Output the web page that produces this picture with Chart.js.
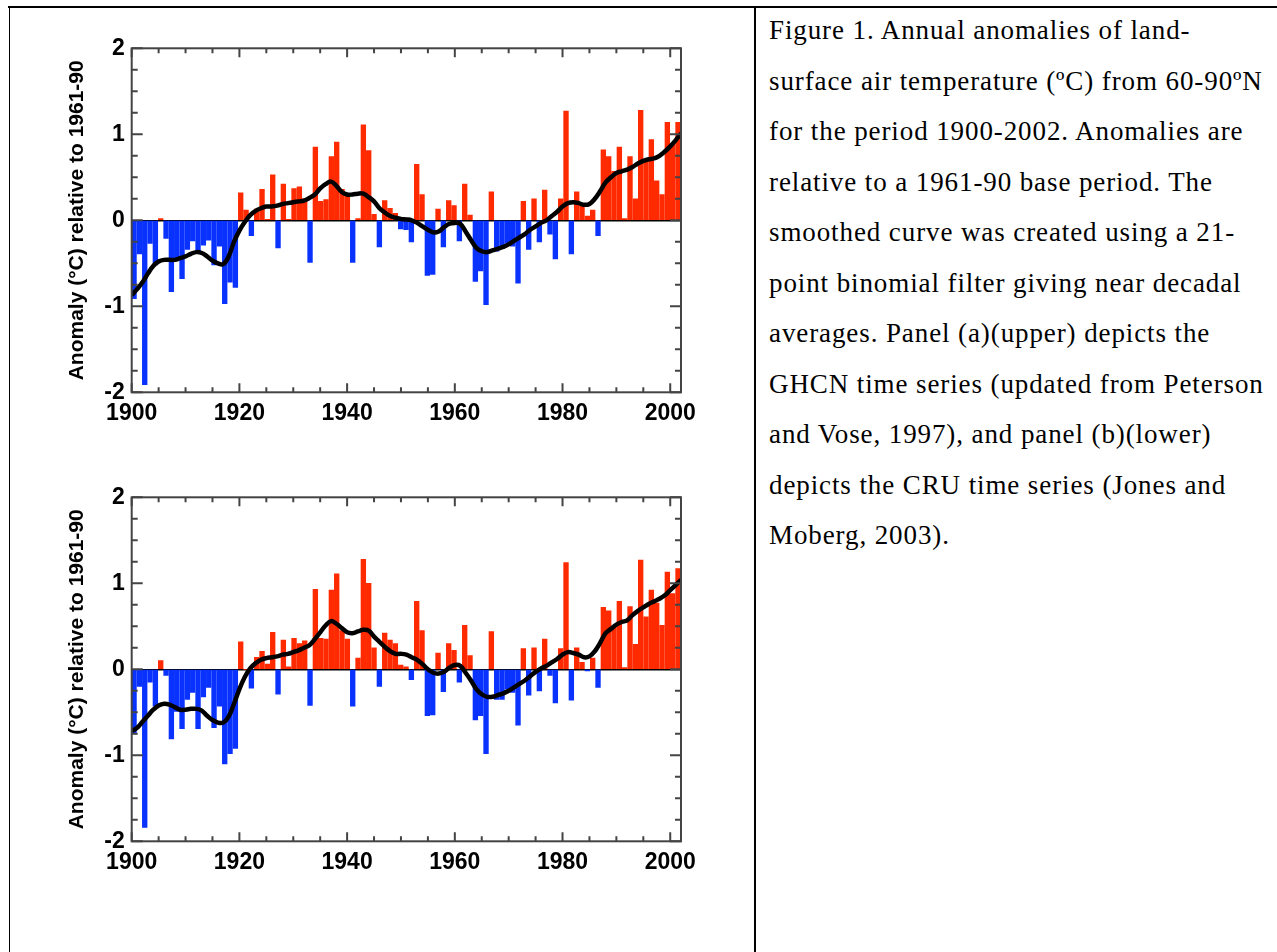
<!DOCTYPE html>
<html lang="en">
<head>
  <meta charset="UTF-8">
  <title>Annual anomalies of land-surface air temperature, 60-90N</title>
  <script src="https://cdn.jsdelivr.net/npm/chart.js"></script>
  <style>
    body {
      margin: 0;
      background: #fff;
      width: 1277px;
      height: 952px;
      position: relative;
      overflow: hidden;
    }
    .rule { position: absolute; background: #000; }
    #topRule { left: 8px; top: 6px; width: 1269px; height: 2px; }
    #leftRule { left: 9px; top: 6px; width: 1px; height: 946px; }
    #midRule { left: 754px; top: 6px; width: 2px; height: 946px; }
    .panel { position: absolute; left: 0; }
    #caption {
      position: absolute;
      left: 769px;
      top: 5px;
      font-family: 'Liberation Serif', 'Times New Roman', serif;
      font-size: 27px;
      letter-spacing: 0.9px;
      line-height: 50.5px;
      color: #000;
      white-space: nowrap;
    }
  </style>
</head>
<body>

  <div class="rule" id="topRule"></div>
  <div class="rule" id="leftRule"></div>
  <div class="rule" id="midRule"></div>

  <canvas class="panel" id="panelA" width="740" height="440" style="top:0px"></canvas>
  <canvas class="panel" id="panelB" width="740" height="440" style="top:449px"></canvas>

  <div id="caption">
    Figure 1. Annual anomalies of land-<br>
    surface air temperature (ºC) from 60-90ºN<br>
    for the period 1900-2002. Anomalies are<br>
    relative to a 1961-90 base period. The<br>
    smoothed curve was created using a 21-<br>
    point binomial filter giving near decadal<br>
    averages. Panel (a)(upper) depicts the<br>
    GHCN time series (updated from Peterson<br>
    and Vose, 1997), and panel (b)(lower)<br>
    depicts the CRU time series (Jones and<br>
    Moberg, 2003).
  </div>

  <script>
    const years = Array.from({ length: 103 }, (_, i) => 1900 + i);

    // panel (a) GHCN
    const ghcnAnom = [
      -0.91, -0.39, -1.91, -0.27, -0.52, 0.02, -0.21, -0.83, -0.44, -0.68,
      -0.34, -0.24, -0.36, -0.29, -0.23, -0.52, -0.30, -0.97, -0.72, -0.78,
      0.32, 0.12, -0.18, 0.13, 0.36, 0.01, 0.53, -0.32, 0.42, 0.01,
      0.37, 0.39, 0.25, -0.49, 0.85, 0.22, 0.24, 0.74, 0.91, 0.36,
      0.30, -0.49, 0.02, 1.11, 0.81, 0.07, -0.31, 0.23, 0.14, 0.08,
      -0.10, -0.11, -0.25, 0.65, 0.30, -0.64, -0.63, 0.13, -0.31, 0.23,
      0.17, -0.24, 0.42, 0.06, -0.71, -0.59, -0.98, 0.33, -0.36, -0.33,
      -0.27, -0.30, -0.73, 0.22, -0.34, 0.25, -0.25, 0.35, -0.16, -0.45,
      0.25, 1.27, -0.39, 0.33, 0.18, 0.05, 0.12, -0.18, 0.82, 0.74,
      0.57, 0.85, 0.02, 0.74, 0.25, 1.28, 0.70, 0.94, 0.46, 0.30,
      1.14, 0.88, 1.14
    ];
    const ghcnSmooth = [
      -0.87, -0.80, -0.72, -0.62, -0.53, -0.48, -0.46, -0.46, -0.46, -0.44,
      -0.42, -0.39, -0.37, -0.38, -0.42, -0.47, -0.50, -0.51, -0.42, -0.25,
      -0.12, -0.02, 0.06, 0.11, 0.14, 0.16, 0.16, 0.17, 0.19, 0.20,
      0.21, 0.22, 0.23, 0.26, 0.30, 0.37, 0.42, 0.45, 0.40, 0.33,
      0.30, 0.30, 0.31, 0.31, 0.27, 0.22, 0.14, 0.09, 0.05, 0.03,
      0.015, 0.01, 0.0, -0.03, -0.07, -0.11, -0.14, -0.13, -0.08, -0.04,
      -0.03, -0.04, -0.13, -0.23, -0.32, -0.36, -0.37, -0.35, -0.33, -0.31,
      -0.28, -0.24, -0.20, -0.16, -0.11, -0.07, -0.03, 0.0, 0.05, 0.10,
      0.16, 0.20, 0.21, 0.20, 0.18, 0.19, 0.25, 0.34, 0.44, 0.50,
      0.55, 0.57, 0.59, 0.62, 0.66, 0.69, 0.71, 0.72, 0.75, 0.80,
      0.86, 0.93, 1.01
    ];

    // panel (b) CRU
    const cruAnom = [
      -0.75, -0.20, -1.84, -0.15, -0.43, 0.10, -0.07, -0.81, -0.49, -0.69,
      -0.35, -0.27, -0.69, -0.32, -0.21, -0.68, -0.43, -1.10, -0.98, -0.92,
      0.32, 0.0, -0.22, 0.14, 0.21, 0.06, 0.43, -0.29, 0.34, 0.03,
      0.36, 0.30, 0.33, -0.42, 0.93, 0.36, 0.35, 0.92, 1.11, 0.45,
      0.35, -0.43, 0.13, 1.28, 1.00, 0.25, -0.20, 0.42, 0.34, 0.30,
      0.05, 0.03, -0.12, 0.79, 0.45, -0.54, -0.53, 0.19, -0.26, 0.30,
      0.22, -0.15, 0.51, 0.16, -0.59, -0.54, -0.98, 0.44, -0.35, -0.35,
      -0.23, -0.27, -0.65, 0.24, -0.30, 0.25, -0.25, 0.35, -0.07, -0.39,
      0.24, 1.24, -0.36, 0.25, 0.08, -0.02, 0.13, -0.21, 0.72, 0.68,
      0.50, 0.79, 0.02, 0.73, 0.29, 1.27, 0.61, 0.92, 0.77, 0.51,
      1.13, 0.88, 1.17
    ];
    const cruSmooth = [
      -0.72, -0.68, -0.61, -0.54, -0.47, -0.42, -0.40, -0.41, -0.44, -0.47,
      -0.47, -0.46, -0.46, -0.48, -0.54, -0.59, -0.62, -0.62, -0.55, -0.40,
      -0.23, -0.09, 0.01, 0.07, 0.11, 0.13, 0.14, 0.15, 0.17, 0.18,
      0.20, 0.22, 0.25, 0.28, 0.35, 0.43, 0.51, 0.56, 0.53, 0.48,
      0.43, 0.42, 0.44, 0.46, 0.45, 0.38, 0.32, 0.26, 0.21, 0.18,
      0.18, 0.17, 0.14, 0.11, 0.06, 0.0, -0.04, -0.05, -0.03, 0.02,
      0.05, 0.04, -0.04, -0.13, -0.23, -0.29, -0.32, -0.32, -0.30, -0.28,
      -0.25, -0.21, -0.17, -0.13, -0.08, -0.03, 0.01, 0.04, 0.08, 0.12,
      0.17, 0.20, 0.19, 0.17, 0.14, 0.15, 0.21, 0.31, 0.42, 0.47,
      0.52, 0.55, 0.57, 0.63, 0.68, 0.72, 0.76, 0.79, 0.82, 0.86,
      0.92, 0.98, 1.04
    ];

    const xTickYears = [1900, 1920, 1940, 1960, 1980, 2000];
    const yTickValues = [-2, -1, 0, 1, 2];
    const yTitle = 'Anomaly (°C) relative to 1961-90';

    const warmColor = '#ff2a00';
    const coolColor = '#0a32ff';
    const frameColor = '#444444';
    const labelFont = 'Liberation Sans';

    // inward tick marks on all four sides + the box
    const frameTicks = {
      id: 'frameTicks',
      afterDatasetsDraw(chart) {
        const { ctx, chartArea: a, scales } = chart;
        const x = scales.x, y = scales.y;
        ctx.save();
        ctx.strokeStyle = frameColor;
        ctx.lineWidth = 2;
        ctx.beginPath();
        for (let v = 1900; v <= 2000; v += 5) {
          const px = x.getPixelForValue(v);
          const len = xTickYears.includes(v) ? 9 : 5;
          ctx.moveTo(px, a.bottom); ctx.lineTo(px, a.bottom - len);
          ctx.moveTo(px, a.top); ctx.lineTo(px, a.top + len);
        }
        for (let v = -2; v <= 2; v += 0.25) {
          const py = y.getPixelForValue(v);
          const len = yTickValues.includes(v) ? 11 : 6;
          ctx.moveTo(a.left, py); ctx.lineTo(a.left + len, py);
          ctx.moveTo(a.right, py); ctx.lineTo(a.right - len, py);
        }
        ctx.stroke();
        ctx.strokeRect(a.left, a.top, a.right - a.left, a.bottom - a.top);
        ctx.restore();
      }
    };

    function dibujarPanel(id, anom, smooth) {
      const ctx = document.getElementById(id).getContext('2d');
      return new Chart(ctx, {
        type: 'bar',
        data: {
          datasets: [
            {
              type: 'line',
              data: years.map((yr, i) => ({ x: yr, y: smooth[i] })),
              xAxisID: 'x',
              borderColor: '#000',
              borderWidth: 4.5,
              pointRadius: 0,
              tension: 0.4,
              order: 0
            },
            {
              type: 'bar',
              data: years.map((yr, i) => ({ x: yr, y: anom[i] })),
              xAxisID: 'xb',
              backgroundColor: anom.map(v => v >= 0 ? warmColor : coolColor),
              borderWidth: 0,
              barThickness: 4.7,
              order: 1
            }
          ]
        },
        options: {
          responsive: false,
          animation: false,
          layout: { padding: { left: 65, top: 48.3, right: 59, bottom: 0 } },
          plugins: { legend: { display: false }, tooltip: { enabled: false } },
          scales: {
            xb: { type: 'linear', display: false, min: 1900, max: 2003, offset: false },
            x: {
              type: 'linear',
              position: 'bottom',
              min: 1900,
              max: 2002,
              offset: false,
              afterFit: s => { s.height = 47.7; },
              grid: { display: false, drawTicks: false },
              border: { display: false },
              ticks: {
                stepSize: 20,
                includeBounds: false,
                autoSkip: false,
                maxRotation: 0,
                padding: 8,
                color: '#000',
                font: { family: labelFont, size: 23, weight: 'bold' },
                callback: v => xTickYears.includes(v) ? String(v) : ''
              }
            },
            y: {
              min: -2,
              max: 2,
              afterFit: s => { s.width = 66.7; },
              border: { display: false },
              grid: {
                drawTicks: false,
                lineWidth: 1.5,
                color: c => (c.tick && c.tick.value === 0) ? '#000' : 'rgba(0,0,0,0)'
              },
              ticks: {
                stepSize: 1,
                padding: 7,
                color: '#000',
                font: { family: labelFont, size: 23, weight: 'bold' },
                callback: v => yTickValues.includes(v) ? String(v) : ''
              },
              title: {
                display: true,
                text: yTitle,
                color: '#000',
                padding: 0,
                font: { family: labelFont, size: 21, weight: 'bold' }
              }
            }
          }
        },
        plugins: [frameTicks]
      });
    }

    dibujarPanel('panelA', ghcnAnom, ghcnSmooth);
    dibujarPanel('panelB', cruAnom, cruSmooth);
  </script>

</body>
</html>
